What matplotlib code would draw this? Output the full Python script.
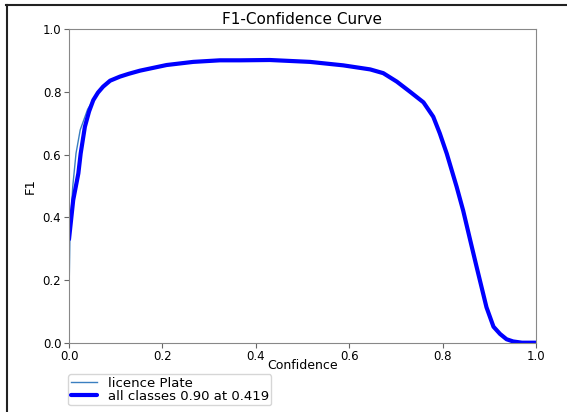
import matplotlib.pyplot as plt
from matplotlib.lines import Line2D

# F1 of the single class (thin line)
cls_conf = [0.0, 0.002, 0.008, 0.015, 0.024, 0.040, 0.052, 0.062, 0.073, 0.088, 0.109, 0.128,
            0.152, 0.209, 0.266, 0.323, 0.366, 0.430, 0.516, 0.587, 0.645, 0.673, 0.702,
            0.730, 0.759, 0.780, 0.794, 0.809, 0.830, 0.844, 0.859, 0.873, 0.894, 0.909,
            0.923, 0.937, 0.951, 0.970, 1.0]
cls_f1 = [0.147, 0.35, 0.498, 0.604, 0.679, 0.745, 0.774, 0.798, 0.817, 0.836, 0.849, 0.858,
          0.868, 0.886, 0.896, 0.901, 0.901, 0.902, 0.896, 0.885, 0.872, 0.860, 0.833,
          0.801, 0.767, 0.721, 0.668, 0.603, 0.498, 0.422, 0.330, 0.246, 0.118, 0.055,
          0.030, 0.012, 0.004, 0.0, 0.0]

# smoothed mean over all classes (thick line)
all_conf = [0.0, 0.009, 0.020, 0.025, 0.034, 0.043, 0.052, 0.062, 0.073, 0.088, 0.109, 0.128,
            0.152, 0.209, 0.266, 0.323, 0.366, 0.430, 0.516, 0.587, 0.645, 0.673, 0.702,
            0.730, 0.759, 0.780, 0.794, 0.809, 0.830, 0.844, 0.859, 0.873, 0.894, 0.909,
            0.923, 0.937, 0.951, 0.970, 1.0]
all_f1 = [0.33, 0.455, 0.540, 0.604, 0.689, 0.738, 0.774, 0.798, 0.817, 0.836, 0.849, 0.858,
          0.868, 0.886, 0.896, 0.901, 0.901, 0.902, 0.896, 0.885, 0.872, 0.860, 0.833,
          0.801, 0.767, 0.721, 0.668, 0.603, 0.498, 0.422, 0.328, 0.241, 0.113, 0.051,
          0.028, 0.011, 0.004, 0.0, 0.0]

fig = plt.figure(figsize=(5.67, 4.12), dpi=100)
ax = fig.add_axes([0.1217, 0.1682, 0.8236, 0.7607])

ax.plot(cls_conf, cls_f1, linewidth=1, color='#3a7fc0', label='licence Plate',
        solid_joinstyle='round')
ax.plot(all_conf, all_f1, linewidth=3, color='blue', label='all classes 0.90 at 0.419',
        solid_joinstyle='round', solid_capstyle='round')

ax.set_xlim(0, 1)
ax.set_ylim(0, 1)
ax.set_xticks([0, 0.2, 0.4, 0.6, 0.8, 1.0])
ax.set_yticks([0, 0.2, 0.4, 0.6, 0.8, 1.0])
ax.tick_params(labelsize=8.5, color='#666666', pad=2)
for s in ax.spines.values():
    s.set_color('#888888')
ax.set_xlabel('Confidence', fontsize=9, labelpad=-3)
ax.set_ylabel('F1', fontsize=9.5)
ax.set_title('F1-Confidence Curve', fontsize=11, pad=4)
ax.legend(loc='upper left', bbox_to_anchor=(-0.002, -0.1), fontsize=9.5,
          borderaxespad=0, labelspacing=0.0, handletextpad=0.8, borderpad=0.2)

# screenshot border (top and left)
fig.add_artist(Line2D([6 / 567, 1], [1 - 5 / 412, 1 - 5 / 412], color='#222222', linewidth=1.5))
fig.add_artist(Line2D([7 / 567, 7 / 567], [0, 1 - 5 / 412], color='#222222', linewidth=1.5))

fig.savefig('out.png', dpi=100)
